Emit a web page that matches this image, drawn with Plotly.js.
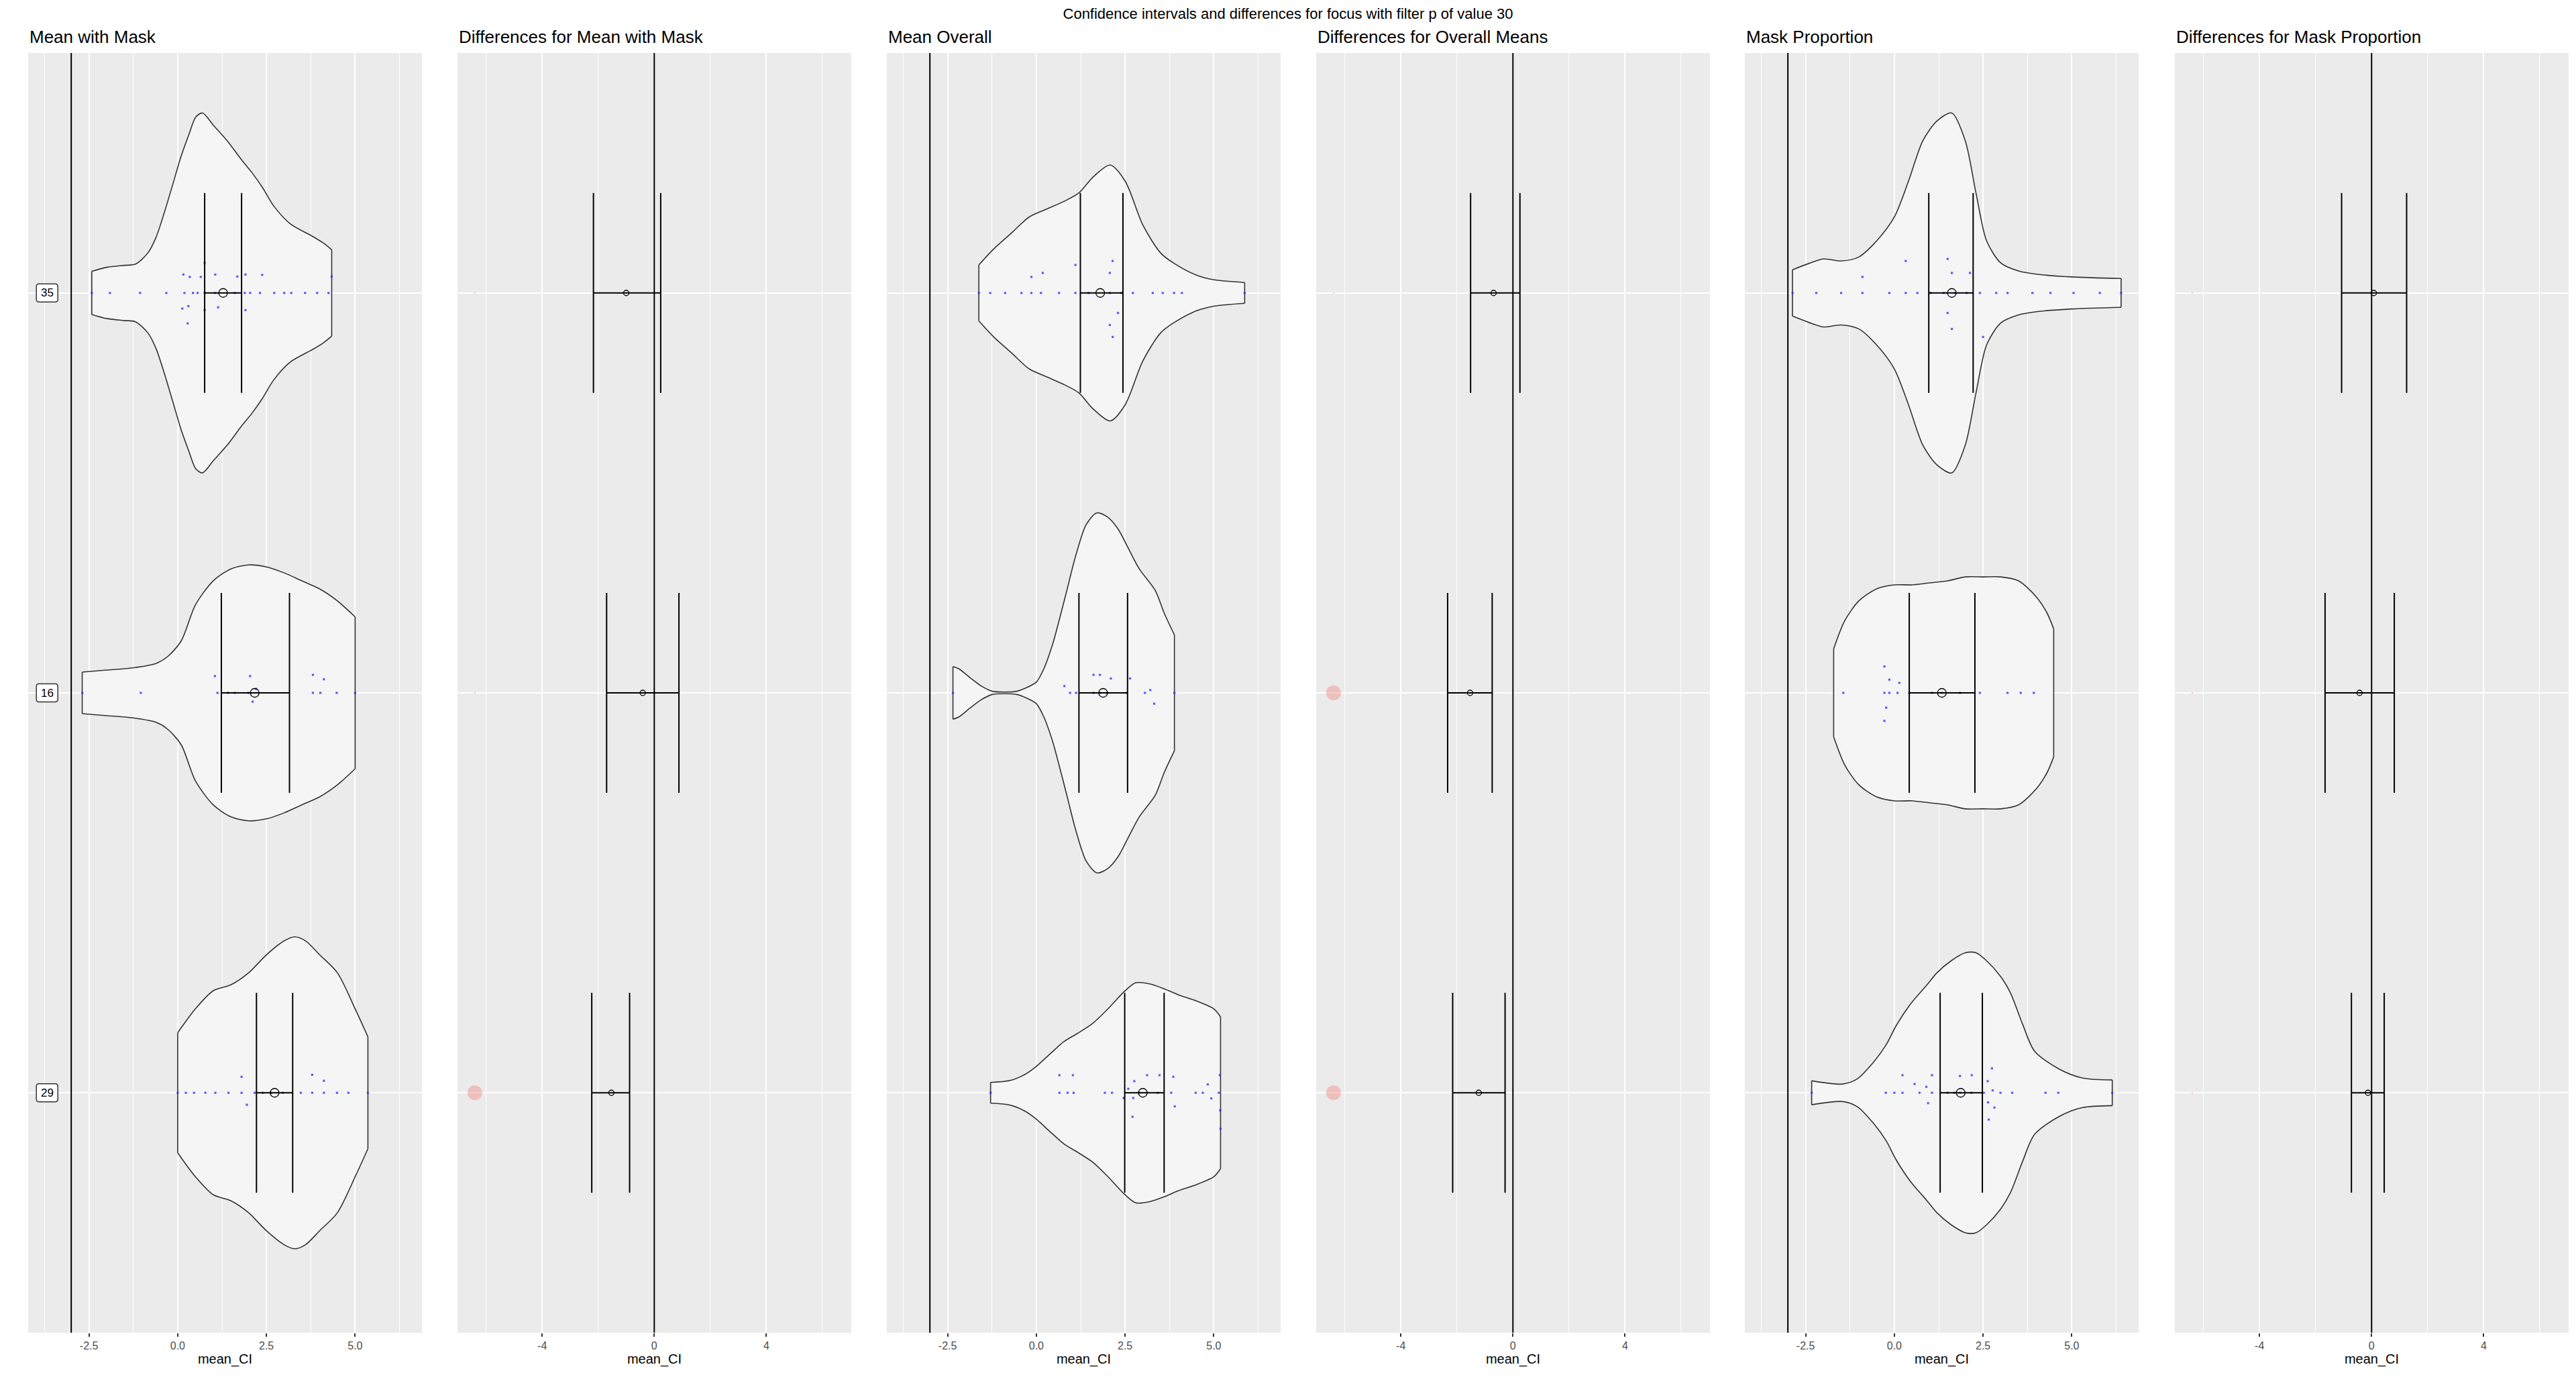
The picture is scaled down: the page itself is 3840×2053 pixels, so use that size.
<!DOCTYPE html>
<html>
<head>
<meta charset="utf-8">
<script src="https://cdn.plot.ly/plotly-3.0.1.min.js"></script>
<style>html,body{margin:0;padding:0;background:#fff;}#chart{width:3840px;height:2053px;}</style>
</head>
<body>
<div id="chart"></div>
<script>
// ---------------- DATA ----------------
const mainTitle = 'Confidence intervals and differences for focus with filter p of value 30';
const panelTitles = ['Mean with Mask', 'Differences for Mean with Mask', 'Mean Overall',
                     'Differences for Overall Means', 'Mask Proportion', 'Differences for Mask Proportion'];
const categories = ['35', '16', '29'];            // top to bottom
const xTitle = 'mean_CI';
const meanTickVals = [-2.5, 0, 2.5, 5];
const meanTickText = ['-2.5', '0.0', '2.5', '5.0'];
const meanMinorVals = [-3.75, -1.25, 1.25, 3.75, 6.25];
const diffTickVals = [-4, 0, 4];
const diffTickText = ['-4', '0', '4'];
const diffMinorVals = [-6, -2, 2, 6];
const meanRefLine = -3;
const diffRefLine = 0;

// confidence intervals (order of categories)
const maskLo = [0.76, 1.23, 2.22], maskHi = [1.80, 3.15, 3.24], maskMean = [1.28, 2.17, 2.73];
const overallLo = [1.24, 1.20, 2.49], overallHi = [2.44, 2.57, 3.60], overallMean = [1.80, 1.88, 3.00];
const propLo = [0.97, 0.42, 1.29], propHi = [2.22, 2.27, 2.48], propMean = [1.62, 1.34, 1.87];

// differences
const diffMaskLo = [-2.17, -1.70, -2.23], diffMaskHi = [0.23, 0.88, -0.88], diffMaskEst = [-1.00, -0.41, -1.53];
const diffOverallLo = [-1.51, -2.33, -2.15], diffOverallHi = [0.25, -0.74, -0.28], diffOverallEst = [-0.69, -1.53, -1.22];
const diffPropLo = [-1.07, -1.66, -0.72], diffPropHi = [1.25, 0.81, 0.45], diffPropEst = [0.08, -0.43, -0.13];
// significance markers (1 = significant)
const sigX = -6.4;
const sigMask = [0, 0, 1], sigOverall = [0, 1, 1], sigProp = [0, 0, 0];

// violin profiles: value and half width (category units)
const mask35X = [-2.42, -2.0, -1.5, -1.19, -0.84, -0.61, -0.38, -0.15, 0.09, 0.32, 0.51, 0.70, 1.01, 1.4, 1.78, 2.1, 2.40, 2.71, 3.17, 3.79, 4.1, 4.34];
const mask35W = [0.054, 0.064, 0.069, 0.072, 0.10, 0.139, 0.20, 0.268, 0.34, 0.397, 0.44, 0.45, 0.419, 0.38, 0.335, 0.30, 0.262, 0.217, 0.173, 0.142, 0.125, 0.108];
const mask16X = [-2.69, -2.0, -1.23, -0.6, -0.28, 0.1, 0.5, 1.0, 1.5, 2.0, 2.5, 3.0, 3.5, 4.0, 4.5, 5.0];
const mask16W = [0.052, 0.057, 0.063, 0.074, 0.091, 0.13, 0.22, 0.28, 0.31, 0.32, 0.315, 0.30, 0.28, 0.26, 0.23, 0.19];
const mask29X = [0.0, 0.5, 1.0, 1.5, 2.0, 2.5, 3.0, 3.3, 3.6, 4.0, 4.5, 5.0, 5.36];
const mask29W = [0.15, 0.21, 0.255, 0.27, 0.30, 0.345, 0.38, 0.39, 0.38, 0.345, 0.30, 0.21, 0.14];

const overall35X = [-1.62, -1.2, -0.7, -0.2, 0.3, 0.8, 1.2, 1.6, 2.08, 2.5, 3.0, 3.5, 3.88, 4.5, 5.0, 5.87];
const overall35W = [0.07, 0.11, 0.15, 0.19, 0.21, 0.23, 0.25, 0.29, 0.32, 0.28, 0.17, 0.10, 0.074, 0.045, 0.033, 0.026];
const overall16X = [-2.35, -2.18, -1.87, -1.55, -1.24, -0.9, -0.55, -0.3, 0.0, 0.21, 0.46, 0.65, 0.87, 1.1, 1.4, 1.7, 2.0, 2.3, 2.6, 2.9, 3.35, 3.6, 3.89];
const overall16W = [0.066, 0.06, 0.038, 0.017, 0.004, 0.002, 0.004, 0.012, 0.027, 0.06, 0.122, 0.184, 0.26, 0.34, 0.42, 0.45, 0.44, 0.41, 0.36, 0.31, 0.256, 0.20, 0.145];
const overall29X = [-1.29, -0.73, -0.30, 0.0, 0.42, 0.78, 1.15, 1.58, 2.02, 2.5, 2.8, 3.2, 3.6, 4.0, 4.5, 5.0, 5.19];
const overall29W = [0.026, 0.031, 0.047, 0.066, 0.10, 0.128, 0.148, 0.173, 0.21, 0.255, 0.275, 0.272, 0.26, 0.245, 0.23, 0.21, 0.19];

const prop35X = [-2.87, -2.4, -2.0, -1.5, -1.0, -0.5, 0.0, 0.4, 0.8, 1.2, 1.62, 2.0, 2.3, 2.6, 3.0, 3.5, 4.0, 5.0, 6.39];
const prop35W = [0.058, 0.074, 0.085, 0.08, 0.09, 0.13, 0.19, 0.28, 0.38, 0.43, 0.45, 0.38, 0.25, 0.13, 0.075, 0.055, 0.047, 0.04, 0.036];
const prop16X = [-1.71, -1.4, -1.0, -0.5, 0.0, 0.5, 1.0, 1.5, 2.0, 2.5, 3.0, 3.5, 4.0, 4.3, 4.49];
const prop16W = [0.11, 0.18, 0.23, 0.26, 0.27, 0.27, 0.275, 0.28, 0.29, 0.29, 0.29, 0.28, 0.24, 0.20, 0.16];
const prop29X = [-2.33, -1.45, -1.04, -0.64, -0.23, 0.04, 0.44, 0.92, 1.2, 1.6, 2.0, 2.3, 2.6, 3.0, 3.28, 3.62, 3.95, 4.63, 5.3, 6.14];
const prop29W = [0.03, 0.022, 0.035, 0.071, 0.12, 0.166, 0.22, 0.27, 0.30, 0.33, 0.35, 0.35, 0.33, 0.29, 0.248, 0.17, 0.104, 0.06, 0.037, 0.032];

// raw observations (value, vertical jitter offset)
const mask35PtX = [-2.42, -1.91, -1.06, -0.32, 0.19, 0.43, 0.56, 0.76, 1.05, 1.61, 1.89, 2.04, 2.32, 2.72, 3.0, 3.2, 3.59, 3.93, 4.25,
                   0.16, 0.34, 0.65, 1.06, 1.68, 1.91, 2.38, 4.34, 0.76, 0.13, 0.30, 0.76, 1.14, 1.91, 0.28];
const mask35PtJ = [0,0,0,0,0,0,0,0,0,0,0,0,0,0,0,0,0,0,0,
                   0.046, 0.04, 0.04, 0.046, 0.041, 0.046, 0.045, 0.041, 0.075, -0.039, -0.033, -0.043, -0.036, -0.043, -0.076];
const mask16PtX = [-2.69, -1.04, 1.12, 1.42, 1.61, 1.99, 3.81, 4.02, 4.48, 5.0, 1.05, 2.04, 2.21, 2.11, 3.81, 4.12];
const mask16PtJ = [0,0,0,0,0,0,0,0,0,0, 0.042, 0.042, 0.01, -0.022, 0.045, 0.034];
const mask29PtX = [0.0, 0.23, 0.46, 0.78, 1.06, 1.43, 1.8, 2.17, 2.4, 2.63, 2.96, 3.47, 3.79, 4.12, 4.49, 4.81, 5.36, 1.8, 3.79, 4.12, 1.95];
const mask29PtJ = [0,0,0,0,0,0,0,0,0,0,0,0,0,0,0,0,0, 0.04, 0.045, 0.03, -0.03];
const overall35PtX = [-1.62, -1.3, -0.88, -0.42, -0.14, 0.13, 0.64, 1.1, 1.47, 2.07, 2.4, 2.72, 3.28, 3.56, 3.88, 4.1, 5.87,
                      -0.14, 0.18, 1.1, 2.15, 2.07, 2.3, 2.07, 2.15];
const overall35PtJ = [0,0,0,0,0,0,0,0,0,0,0,0,0,0,0,0,0, 0.04, 0.05, 0.07, 0.08, 0.05, -0.05, -0.08, -0.11];
const overall16PtX = [-2.35, 0.95, 1.12, 1.61, 1.79, 2.0, 2.55, 3.06, 3.89, 0.79, 1.61, 1.79, 2.1, 2.64, 3.21, 3.32];
const overall16PtJ = [0,0,0,0,0,0,0,0,0, 0.017, 0.045, 0.045, 0.036, 0.036, 0.007, -0.027];
const overall29PtX = [-1.29, 0.65, 0.88, 1.05, 1.93, 2.13, 2.9, 3.42, 3.8, 4.49, 4.69, 5.14,
                      0.65, 1.03, 2.76, 2.59, 2.46, 2.73, 3.12, 3.47, 3.86, 3.9, 2.71, 4.83, 4.93, 5.17, 5.18, 5.19];
const overall29PtJ = [0,0,0,0,0,0,0,0,0,0,0,0,
                      0.044, 0.044, 0.029, 0.01, -0.013, -0.013, 0.044, 0.044, 0.04, -0.034, -0.06, 0.021, -0.014, 0.044, -0.044, -0.09];
const prop35PtX = [-2.87, -2.2, -1.5, -0.9, -0.14, 0.32, 0.65, 1.02, 1.39, 1.71, 2.04, 2.41, 2.87, 3.19, 3.89, 4.4, 5.05, 5.79, 6.39,
                   -0.9, 0.32, 1.5, 1.62, 2.13, 1.5, 1.62, 2.5];
const prop35PtJ = [0,0,0,0,0,0,0,0,0,0,0,0,0,0,0,0,0,0,0, 0.04, 0.08, 0.085, 0.05, 0.05, -0.05, -0.09, -0.11];
const prop16PtX = [-1.44, -0.28, -0.14, 0.09, 0.42, 1.06, 1.34, 1.85, 2.41, 3.19, 3.56, 3.93, -0.28, -0.14, -0.23, -0.28, 0.14];
const prop16PtJ = [0,0,0,0,0,0,0,0,0,0,0,0, 0.066, 0.033, -0.037, -0.07, 0.025];
const prop29PtX = [-2.33, -0.24, 0.0, 0.23, 0.71, 1.06, 1.5, 1.69, 1.85, 2.17, 2.52, 2.99, 3.32, 4.26, 4.62, 6.14,
                   0.23, 1.06, 0.57, 0.9, 0.95, 1.85, 2.18, 2.75, 2.63, 2.77, 2.64, 2.82, 2.66];
const prop29PtJ = [0,0,0,0,0,0,0,0,0,0,0,0,0,0,0,0,
                   0.044, 0.044, 0.022, 0.015, -0.026, 0.042, 0.044, 0.061, 0.029, 0.006, -0.024, -0.037, -0.067];

// ---------------- BUILD ----------------
const W = 3840, H = 2053;
const panelLeft = [42, 682, 1322, 1962, 2601, 3242];
const panelW = 587, panelTop = 79, panelBottom = 1987;
const font = '"Liberation Sans", Arial, sans-serif';
const catPos = categories.map((c, i) => categories.length - i);
const capHalf = 0.25;
const yRange = [0.4, 3.6];

const traces = [];
function ax(i) { return i === 0 ? '' : String(i + 1); }

function addRef(i, v) {
  traces.push({type: 'scatter', mode: 'lines', x: [v, v], y: yRange, xaxis: 'x' + ax(i), yaxis: 'y' + ax(i),
    line: {color: '#000000', width: 2}, hoverinfo: 'skip', showlegend: false, cliponaxis: true});
}
function addViolin(i, vx, vw, yc) {
  const xa = 'x' + ax(i), ya = 'y' + ax(i);
  const n = vx.length;
  traces.push({type: 'scatter', mode: 'lines', x: vx, y: vx.map((_, k) => yc - vw[k]), xaxis: xa, yaxis: ya,
    line: {color: '#333333', width: 1.6, shape: 'spline', smoothing: 0.8}, hoverinfo: 'skip', showlegend: false});
  traces.push({type: 'scatter', mode: 'lines', x: vx, y: vx.map((_, k) => yc + vw[k]), xaxis: xa, yaxis: ya,
    fill: 'tonexty', fillcolor: '#F5F5F5',
    line: {color: '#333333', width: 1.6, shape: 'spline', smoothing: 0.8}, hoverinfo: 'skip', showlegend: false});
  traces.push({type: 'scatter', mode: 'lines', xaxis: xa, yaxis: ya,
    x: [vx[0], vx[0], null, vx[n - 1], vx[n - 1]],
    y: [yc - vw[0], yc + vw[0], null, yc - vw[n - 1], yc + vw[n - 1]],
    line: {color: '#333333', width: 1.6}, hoverinfo: 'skip', showlegend: false});
}
function addPoints(i, px, pj, yc) {
  traces.push({type: 'scatter', mode: 'markers', x: px, y: pj.map(j => yc + j),
    xaxis: 'x' + ax(i), yaxis: 'y' + ax(i),
    marker: {color: 'rgba(40,40,255,0.75)', size: 3.2, symbol: 'square'}, hoverinfo: 'skip', showlegend: false});
}
function addCI(i, lo, hi, mid, circleSize) {
  const xs = [], ys = [];
  lo.forEach((l, k) => {
    const yc = catPos[k];
    xs.push(l, l, null, hi[k], hi[k], null, l, hi[k], null);
    ys.push(yc - capHalf, yc + capHalf, null, yc - capHalf, yc + capHalf, null, yc, yc, null);
  });
  traces.push({type: 'scatter', mode: 'lines', x: xs, y: ys, xaxis: 'x' + ax(i), yaxis: 'y' + ax(i),
    line: {color: '#000000', width: 2}, hoverinfo: 'skip', showlegend: false});
  traces.push({type: 'scatter', mode: 'markers', x: mid, y: catPos, xaxis: 'x' + ax(i), yaxis: 'y' + ax(i),
    marker: {symbol: 'circle-open', size: circleSize, color: '#000000', line: {width: 1.3}},
    hoverinfo: 'skip', showlegend: false});
}
function addSig(i, flags) {
  traces.push({type: 'scatter', mode: 'markers', x: flags.map(() => sigX), y: catPos,
    xaxis: 'x' + ax(i), yaxis: 'y' + ax(i),
    marker: {color: 'rgba(240,120,115,0.55)', size: flags.map(f => f ? 22 : 2.5), line: {width: 0}},
    hoverinfo: 'skip', showlegend: false});
}

// Panel 1: Mean with Mask
addRef(0, meanRefLine);
addViolin(0, mask35X, mask35W, catPos[0]);
addViolin(0, mask16X, mask16W, catPos[1]);
addViolin(0, mask29X, mask29W, catPos[2]);
addPoints(0, mask35PtX, mask35PtJ, catPos[0]);
addPoints(0, mask16PtX, mask16PtJ, catPos[1]);
addPoints(0, mask29PtX, mask29PtJ, catPos[2]);
addCI(0, maskLo, maskHi, maskMean, 13);
// Panel 2
addRef(1, diffRefLine);
addSig(1, sigMask);
addCI(1, diffMaskLo, diffMaskHi, diffMaskEst, 8);
// Panel 3
addRef(2, meanRefLine);
addViolin(2, overall35X, overall35W, catPos[0]);
addViolin(2, overall16X, overall16W, catPos[1]);
addViolin(2, overall29X, overall29W, catPos[2]);
addPoints(2, overall35PtX, overall35PtJ, catPos[0]);
addPoints(2, overall16PtX, overall16PtJ, catPos[1]);
addPoints(2, overall29PtX, overall29PtJ, catPos[2]);
addCI(2, overallLo, overallHi, overallMean, 13);
// Panel 4
addRef(3, diffRefLine);
addSig(3, sigOverall);
addCI(3, diffOverallLo, diffOverallHi, diffOverallEst, 8);
// Panel 5
addRef(4, meanRefLine);
addViolin(4, prop35X, prop35W, catPos[0]);
addViolin(4, prop16X, prop16W, catPos[1]);
addViolin(4, prop29X, prop29W, catPos[2]);
addPoints(4, prop35PtX, prop35PtJ, catPos[0]);
addPoints(4, prop16PtX, prop16PtJ, catPos[1]);
addPoints(4, prop29PtX, prop29PtJ, catPos[2]);
addCI(4, propLo, propHi, propMean, 13);
// Panel 6
addRef(5, diffRefLine);
addSig(5, sigProp);
addCI(5, diffPropLo, diffPropHi, diffPropEst, 8);

const layout = {
  width: W, height: H,
  margin: {l: 0, r: 0, t: 0, b: 0},
  paper_bgcolor: '#FFFFFF', plot_bgcolor: '#EBEBEB',
  font: {family: font, color: '#000000'},
  showlegend: false,
  title: {text: mainTitle, x: 0.5, xanchor: 'center', xref: 'paper', y: 1 - 20 / H, yanchor: 'middle', yref: 'container',
          font: {family: font, size: 22, color: '#000000'}},
  annotations: [], shapes: []
};
const yDom = [(H - panelBottom) / H, (H - panelTop) / H];
for (let i = 0; i < 6; i++) {
  const isMean = i % 2 === 0;
  const x0 = panelLeft[i] / W, x1 = (panelLeft[i] + panelW) / W;
  layout['xaxis' + ax(i)] = {
    domain: [x0, x1], anchor: 'y' + ax(i),
    range: isMean ? [-4.213, 6.883] : [-7.02, 7.03],
    tickmode: 'array', tickvals: isMean ? meanTickVals : diffTickVals, ticktext: isMean ? meanTickText : diffTickText,
    ticks: 'outside', ticklen: 5, tickwidth: 2, tickcolor: '#333333',
    tickfont: {family: font, size: 16, color: '#4D4D4D'},
    showgrid: true, gridcolor: '#FFFFFF', gridwidth: 2, zeroline: false, showline: false,
    minor: {tickmode: 'array', tickvals: isMean ? meanMinorVals : diffMinorVals, showgrid: true, gridcolor: '#FFFFFF', gridwidth: 1, ticks: ''},
    title: {text: xTitle, font: {family: font, size: 20, color: '#000000'}, standoff: 4},
    fixedrange: true
  };
  layout['yaxis' + ax(i)] = {
    domain: yDom, anchor: 'x' + ax(i), range: yRange,
    tickmode: 'array', tickvals: catPos, ticktext: categories, showticklabels: false, ticks: '',
    showgrid: true, gridcolor: '#FFFFFF', gridwidth: 2, zeroline: false, showline: false, fixedrange: true
  };
  layout.annotations.push({text: panelTitles[i], xref: 'paper', yref: 'paper', x: x0, y: 1 - 55 / H,
    xanchor: 'left', yanchor: 'middle', showarrow: false, font: {family: font, size: 26, color: '#000000'}});
}
// boxed category labels inside the first panel
const labelX = -3.68;
const bw = 16, bh = 13.5, r = 4;
const boxPath = `M ${-bw + r},${-bh} L ${bw - r},${-bh} Q ${bw},${-bh} ${bw},${-bh + r} L ${bw},${bh - r} Q ${bw},${bh} ${bw - r},${bh} ` +
                `L ${-bw + r},${bh} Q ${-bw},${bh} ${-bw},${bh - r} L ${-bw},${-bh + r} Q ${-bw},${-bh} ${-bw + r},${-bh} Z`;
categories.forEach((c, k) => {
  layout.shapes.push({type: 'path', xref: 'x', yref: 'y', xsizemode: 'pixel', ysizemode: 'pixel',
    xanchor: labelX, yanchor: catPos[k], path: boxPath, fillcolor: '#FFFFFF',
    line: {color: '#333333', width: 1.5}, layer: 'above'});
  layout.annotations.push({text: c, xref: 'x', yref: 'y', x: labelX, y: catPos[k], showarrow: false,
    xanchor: 'center', yanchor: 'middle', font: {family: font, size: 17, color: '#000000'}});
});

Plotly.newPlot('chart', traces, layout, {displayModeBar: false, staticPlot: true});
</script>
</body>
</html>
